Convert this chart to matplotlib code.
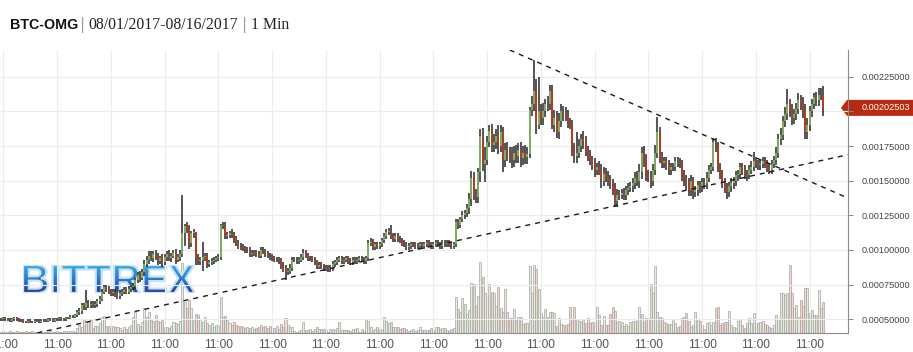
import numpy as np
import pandas as pd
import matplotlib
matplotlib.use("Agg")
import matplotlib.pyplot as plt
from matplotlib.textpath import TextPath
from matplotlib.patches import PathPatch, Polygon
from matplotlib.font_manager import FontProperties
from matplotlib.colors import LinearSegmentedColormap

plt.rcParams['font.family'] = ['Liberation Sans', 'DejaVu Sans']

# hourly closes, in units of 1e-5 BTC
close = [
    50, 51, 50, 50, 49, 50, 51, 50, 49, 49,
    48, 48, 49, 48, 48, 49, 49, 48, 49, 49,
    49, 50, 50, 49, 50, 50, 51, 50, 50, 51,
    51, 52, 52, 53, 55, 56, 60, 59, 62, 60,
    61, 60, 61, 63, 65, 70, 73, 72, 70, 69,
    70, 68, 67, 69, 70, 71, 70, 72, 73, 74,
    78, 82, 80, 84, 90, 93, 96, 94, 97, 95,
    92, 94, 91, 95, 97, 94, 96, 98, 93, 95,
    97, 112, 117, 115, 105, 112, 113, 95, 92, 93,
    95, 96, 90, 91, 92, 93, 94, 95, 118, 117,
    110, 111, 112, 111, 108, 105, 103, 102, 101, 100,
    100, 97, 98, 98, 97, 96, 100, 99, 97, 96,
    95, 94, 93, 93, 92, 89, 87, 84, 85, 87,
    93, 93, 92, 93, 95, 98, 96, 94, 94, 93,
    91, 88, 89, 88, 87, 87, 86, 87, 90, 91,
    93, 94, 92, 93, 94, 92, 91, 93, 92, 93,
    94, 93, 92, 94, 105, 106, 102, 104, 103, 104,
    107, 110, 113, 114, 110, 108, 110, 108, 107, 105,
    104, 102, 103, 104, 104, 103, 103, 104, 103, 104,
    105, 104, 103, 104, 105, 104, 103, 105, 104, 105,
    104, 103, 104, 120, 118, 122, 125, 127, 130, 137,
    152, 140, 138, 156, 182, 162, 165, 178, 186, 176,
    178, 182, 175, 185, 165, 172, 170, 168, 165, 170,
    168, 172, 166, 170, 167, 169, 201, 205, 215, 190,
    200, 195, 200, 205, 205, 215, 190, 195, 185, 193,
    200, 198, 197, 192, 190, 172, 168, 170, 175, 180,
    178, 172, 168, 165, 162, 158, 160, 158, 150, 155,
    153, 150, 148, 145, 135, 140, 140, 141, 140, 143,
    145, 146, 148, 152, 150, 156, 170, 165, 155, 153,
    150, 158, 170, 185, 168, 163, 164, 162, 158, 160,
    160, 164, 163, 162, 154, 150, 148, 143, 150, 142,
    143, 147, 145, 149, 148, 152, 158, 160, 178, 175,
    160, 155, 149, 145, 142, 146, 148, 150, 154, 155,
    160, 158, 155, 154, 158, 160, 164, 162, 161, 162,
    164, 162, 159, 158, 162, 165, 170, 180, 183, 193,
    198, 205, 200, 195, 198, 202, 208, 205, 200, 185,
    190, 200, 205, 210, 208, 212, 212, 202.503,
]

# upper / lower wick beyond the body, same units
wick_up = [
    1, 1, 1, 1, 1, 1, 1, 1, 1, 1,
    1, 1, 1, 1, 1, 1, 1, 1, 1, 1,
    1, 1, 1, 1, 1, 1, 1, 1, 1, 1,
    1, 1, 1, 1, 2, 2, 2, 2, 9, 2,
    2, 2, 2, 2, 2, 2, 2, 2, 2, 2,
    2, 2, 2, 2, 2, 2, 2, 2, 2, 2,
    2, 2, 3, 2, 3, 3, 3, 3, 2, 3,
    3, 2, 3, 2, 2, 3, 2, 2, 3, 2,
    3, 28, 2, 3, 3, 2, 2, 0, 2, 2,
    11, 2, 2, 2, 2, 2, 2, 2, 1, 2,
    3, 2, 2, 3, 2, 2, 2, 2, 2, 2,
    2, 2, 2, 2, 2, 2, 2, 2, 2, 2,
    2, 2, 2, 2, 2, 2, 2, 2, 2, 3,
    2, 2, 2, 2, 2, 3, 2, 2, 2, 2,
    2, 2, 2, 2, 2, 2, 2, 2, 2, 2,
    2, 2, 2, 2, 2, 2, 2, 2, 2, 2,
    2, 2, 2, 2, 2, 3, 2, 2, 2, 2,
    2, 2, 2, 2, 4, 2, 2, 2, 2, 2,
    2, 2, 2, 2, 2, 2, 2, 2, 2, 2,
    2, 2, 2, 2, 2, 2, 2, 2, 2, 2,
    2, 2, 2, 2, 2, 2, 3, 2, 3, 4,
    5, 4, 4, 3, 5, 6, 9, 4, 4, 5,
    6, 5, 8, 5, 4, 5, 6, 4, 6, 5,
    6, 5, 6, 5, 6, 5, 2, 6, 22, 8,
    25, 5, 6, 4, 6, 4, 4, 6, 5, 6,
    5, 4, 5, 4, 3, 4, 5, 15, 5, 4,
    6, 4, 3, 4, 3, 4, 3, 4, 4, 5,
    4, 4, 4, 3, 3, 4, 3, 3, 4, 3,
    3, 3, 4, 4, 5, 6, 4, 5, 4, 3,
    4, 4, 6, 11, 4, 3, 3, 3, 3, 3,
    3, 3, 3, 3, 3, 4, 4, 4, 4, 3,
    3, 3, 3, 3, 3, 4, 3, 3, 3, 3,
    3, 3, 3, 3, 3, 3, 4, 3, 3, 3,
    3, 3, 3, 3, 3, 4, 7, 3, 3, 3,
    3, 3, 3, 3, 3, 3, 4, 4, 5, 4,
    5, 11, 4, 5, 4, 4, 5, 4, 5, 5,
    5, 4, 4, 3, 4, 5, 5, 6,
]
wick_dn = [
    1, 1, 1, 1, 1, 1, 1, 1, 1, 1,
    1, 1, 1, 1, 1, 1, 1, 1, 1, 1,
    1, 1, 1, 1, 1, 1, 1, 1, 1, 1,
    1, 1, 1, 1, 1, 2, 2, 2, 2, 2,
    2, 2, 2, 2, 2, 2, 2, 2, 2, 2,
    2, 2, 2, 2, 2, 2, 2, 2, 2, 2,
    2, 2, 3, 2, 3, 2, 3, 2, 3, 2,
    3, 2, 3, 2, 3, 2, 3, 2, 3, 2,
    3, 2, 9, 3, 4, 3, 3, 6, 3, 3,
    8, 3, 3, 2, 2, 2, 2, 2, 2, 2,
    2, 2, 2, 2, 3, 2, 2, 2, 2, 2,
    2, 2, 2, 2, 2, 2, 2, 2, 2, 2,
    2, 2, 2, 2, 2, 3, 3, 6, 2, 2,
    2, 2, 2, 2, 2, 2, 2, 2, 2, 2,
    2, 2, 2, 2, 2, 2, 2, 2, 2, 2,
    2, 2, 2, 2, 2, 2, 2, 2, 2, 2,
    2, 2, 2, 2, 2, 2, 2, 2, 2, 2,
    2, 2, 2, 2, 2, 2, 2, 2, 2, 2,
    2, 2, 2, 2, 2, 2, 2, 2, 2, 2,
    2, 2, 2, 2, 2, 2, 2, 2, 2, 2,
    2, 2, 2, 2, 3, 2, 2, 3, 3, 4,
    5, 4, 4, 4, 7, 5, 13, 4, 4, 5,
    5, 5, 6, 4, 9, 5, 6, 5, 6, 5,
    5, 5, 6, 5, 5, 5, 3, 4, 5, 6,
    3, 5, 5, 4, 5, 4, 3, 5, 4, 5,
    4, 5, 4, 4, 3, 4, 5, 5, 4, 4,
    5, 4, 4, 4, 4, 5, 4, 4, 5, 4,
    4, 4, 4, 5, 4, 4, 4, 3, 4, 4,
    3, 3, 4, 4, 4, 5, 5, 5, 5, 4,
    5, 4, 4, 4, 5, 4, 4, 4, 4, 4,
    3, 3, 3, 3, 4, 4, 5, 4, 4, 5,
    4, 4, 4, 3, 4, 4, 3, 3, 3, 4,
    4, 4, 4, 4, 5, 4, 4, 4, 4, 4,
    4, 4, 4, 4, 3, 3, 3, 3, 3, 3,
    3, 3, 3, 3, 3, 3, 4, 4, 4, 4,
    4, 4, 4, 5, 4, 4, 4, 4, 5, 5,
    5, 4, 4, 3, 4, 4, 4, 6,
]

volume = [
    1, 2, 1, 1, 2, 1, 1, 2, 1, 1,
    1, 2, 1, 1, 2, 1, 1, 1, 2, 1,
    1, 1, 2, 1, 1, 2, 1, 1, 2, 2,
    1, 2, 2, 1, 5, 8, 6, 14, 8, 11,
    13, 5, 7, 7, 10, 16, 17, 7, 7, 5,
    7, 6, 6, 5, 3, 6, 4, 6, 8, 16,
    21, 9, 7, 11, 25, 16, 21, 13, 12, 18,
    12, 11, 13, 6, 6, 5, 7, 11, 10, 9,
    12, 70, 31, 25, 33, 25, 13, 19, 18, 14,
    11, 16, 10, 8, 10, 6, 8, 8, 36, 16,
    17, 13, 10, 8, 11, 8, 7, 7, 6, 5,
    6, 5, 6, 4, 5, 6, 8, 6, 7, 5,
    7, 3, 5, 7, 4, 9, 6, 15, 8, 6,
    6, 2, 1, 2, 3, 11, 3, 3, 4, 2,
    4, 6, 4, 4, 4, 3, 1, 4, 4, 3,
    5, 11, 3, 3, 3, 3, 2, 4, 4, 5,
    1, 4, 2, 13, 12, 6, 3, 4, 6, 4,
    3, 16, 12, 10, 11, 6, 6, 6, 4, 5,
    5, 4, 2, 3, 4, 2, 3, 6, 3, 3,
    3, 3, 5, 3, 6, 6, 4, 5, 5, 3,
    2, 4, 5, 36, 24, 21, 35, 29, 19, 23,
    50, 49, 27, 37, 71, 56, 40, 38, 49, 41,
    40, 27, 46, 25, 21, 44, 21, 15, 15, 24,
    13, 16, 16, 9, 10, 10, 67, 40, 68, 64,
    44, 20, 16, 24, 16, 21, 21, 20, 7, 15,
    9, 8, 8, 9, 26, 14, 26, 14, 12, 11,
    14, 10, 15, 10, 11, 11, 26, 18, 8, 17,
    8, 8, 19, 26, 22, 11, 12, 11, 7, 9,
    7, 11, 12, 11, 14, 26, 19, 11, 15, 15,
    49, 40, 67, 21, 16, 15, 11, 10, 9, 9,
    14, 10, 6, 7, 15, 16, 20, 12, 6, 8,
    21, 14, 12, 8, 4, 10, 11, 8, 11, 25,
    26, 8, 10, 11, 11, 22, 8, 6, 5, 12,
    14, 8, 5, 10, 15, 10, 20, 10, 10, 11,
    12, 9, 8, 6, 5, 8, 18, 14, 40, 40,
    38, 40, 68, 40, 25, 28, 16, 33, 27, 45,
    45, 20, 23, 18, 18, 43, 25, 31,
]

# dashed trendlines: two anchor points (candle index, price)
resistance = [(227, 0.002443), (378, 0.001375)]
support = [(16, 0.000401), (378, 0.001687)]

y_ticks = [0.0005, 0.00075, 0.001, 0.00125, 0.0015, 0.00175, 0.002, 0.00225]

n = min(len(close), len(wick_up), len(wick_dn), len(volume))
times = pd.date_range("2017-08-01 10:00", periods=n, freq="h")
c = np.array(close[:n], dtype=float) * 1e-5
o = np.concatenate([[c[0]], c[:-1]])
hi = np.maximum(o, c) + np.array(wick_up[:n]) * 1e-5
lo = np.minimum(o, c) - np.array(wick_dn[:n]) * 1e-5
x = np.arange(n)
up = c >= o

W, H = 913, 352
fig = plt.figure(figsize=(W / 100, H / 100), dpi=100)
ax = fig.add_axes([0, 19 / H, 848 / W, 283 / H])
ax2 = ax.twinx()
ax.set_zorder(3)
ax2.set_zorder(1)
ax.patch.set_visible(False)
ax2.patch.set_visible(False)

# volume
ax2.bar(x, volume[:n], width=0.9,
        color=np.where(up, '#e2edda', '#f4d5cd'),
        edgecolor='#9c9c9c', linewidth=0.45)
ax2.set_ylim(0, 283)
ax2.set_yticks([])
for s in ax2.spines.values():
    s.set_visible(False)

# candles
ax.vlines(x, lo, hi, color='#262626', lw=1.1, zorder=3)
ax.vlines(x, np.minimum(o, c), np.maximum(o, c),
          color=np.where(up, '#8cc46c', '#c43718'), lw=1.1, zorder=4)

ax.axline(*resistance, color='#1a1a1a', lw=1.0, dashes=(3.6, 3.6), zorder=5)
ax.axline(*support, color='#1a1a1a', lw=1.0, dashes=(3.6, 3.6), zorder=5)

ax.set_xlim(-0.45, 378.1)
ax.set_ylim(0.0004012, 0.0024426)

tick_idx = np.where(times.hour == 11)[0]
ax.set_xticks(tick_idx)
ax.set_xticklabels(times[tick_idx].strftime('%H:%M'))
ax.set_yticks(y_ticks)
# the last-price tag sits over the label nearest to it
tag_near = int(np.argmin(np.abs(np.array(y_ticks) - c[-1])))
ax.set_yticklabels(['' if k == tag_near else f"{v:.8f}" for k, v in enumerate(y_ticks)])
ax.yaxis.tick_right()
ax.tick_params(axis='y', length=3.6, width=0.7, color='#888888', pad=6,
               labelsize=6.6, labelcolor='#444444')
ax.tick_params(axis='x', length=0, pad=4.5, labelsize=8.6, labelcolor='#555555')
ax.grid(True, color='#ececec', lw=0.8)
ax.set_axisbelow(True)
for side in ['left', 'top']:
    ax.spines[side].set_visible(False)
for side in ['right', 'bottom']:
    ax.spines[side].set_color('#8c8c8c')
    ax.spines[side].set_linewidth(0.8)

# watermark
fp = FontProperties(family='Liberation Sans', weight='bold')
tp = TextPath((0, 0), "BITTREX", size=40, prop=fp)
bb = tp.get_extents()
lax = fig.add_axes([23 / W, 59 / H, 172 / W, 28 / H], zorder=2)
lax.set_xlim(bb.x0, bb.x1)
lax.set_ylim(bb.y0, bb.y1)
lax.axis('off')
halo = PathPatch(tp, facecolor='none', edgecolor='#c6e3f6', lw=1.6)
lax.add_patch(halo)
cmap = LinearSegmentedColormap.from_list('bittrex', ['#263b97', '#2f78cc', '#38ace7'])
im = lax.imshow(np.linspace(0, 1, 256).reshape(-1, 1), cmap=cmap, origin='lower',
                extent=(bb.x0, bb.x1, bb.y0, bb.y1), aspect='auto')
clip = PathPatch(tp, transform=lax.transData)
im.set_clip_path(clip)

# title
ty = 1 - 25 / H
fig.text(10 / W, ty, "BTC-OMG", weight='bold', fontsize=10.3, va='center', color='#111111')
fig.text(81 / W, ty, "|", fontsize=12, va='center', color='#777777', family='Liberation Serif')
fig.text(88 / W, ty, "08/01/2017-08/16/2017", fontsize=11.3, va='center',
         color='#222222', family='Liberation Serif')
fig.text(243 / W, ty, "|", fontsize=12, va='center', color='#777777', family='Liberation Serif')
fig.text(251 / W, ty, "1 Min", fontsize=11.3, va='center', color='#222222', family='Liberation Serif')

# last price tag
yp = ax.transData.transform((0, c[-1]))[1] / H
hh = 8 / H
tag = Polygon([(841 / W, yp), (847 / W, yp + hh), (1, yp + hh), (1, yp - hh), (847 / W, yp - hh)],
              closed=True, transform=fig.transFigure, facecolor='#b72c10', edgecolor='none')
fig.patches.append(tag)
fig.text(862 / W, yp, f"{c[-1]:.8f}", color='white', fontsize=6.6, va='center')

fig.savefig("out.png", dpi=100)
